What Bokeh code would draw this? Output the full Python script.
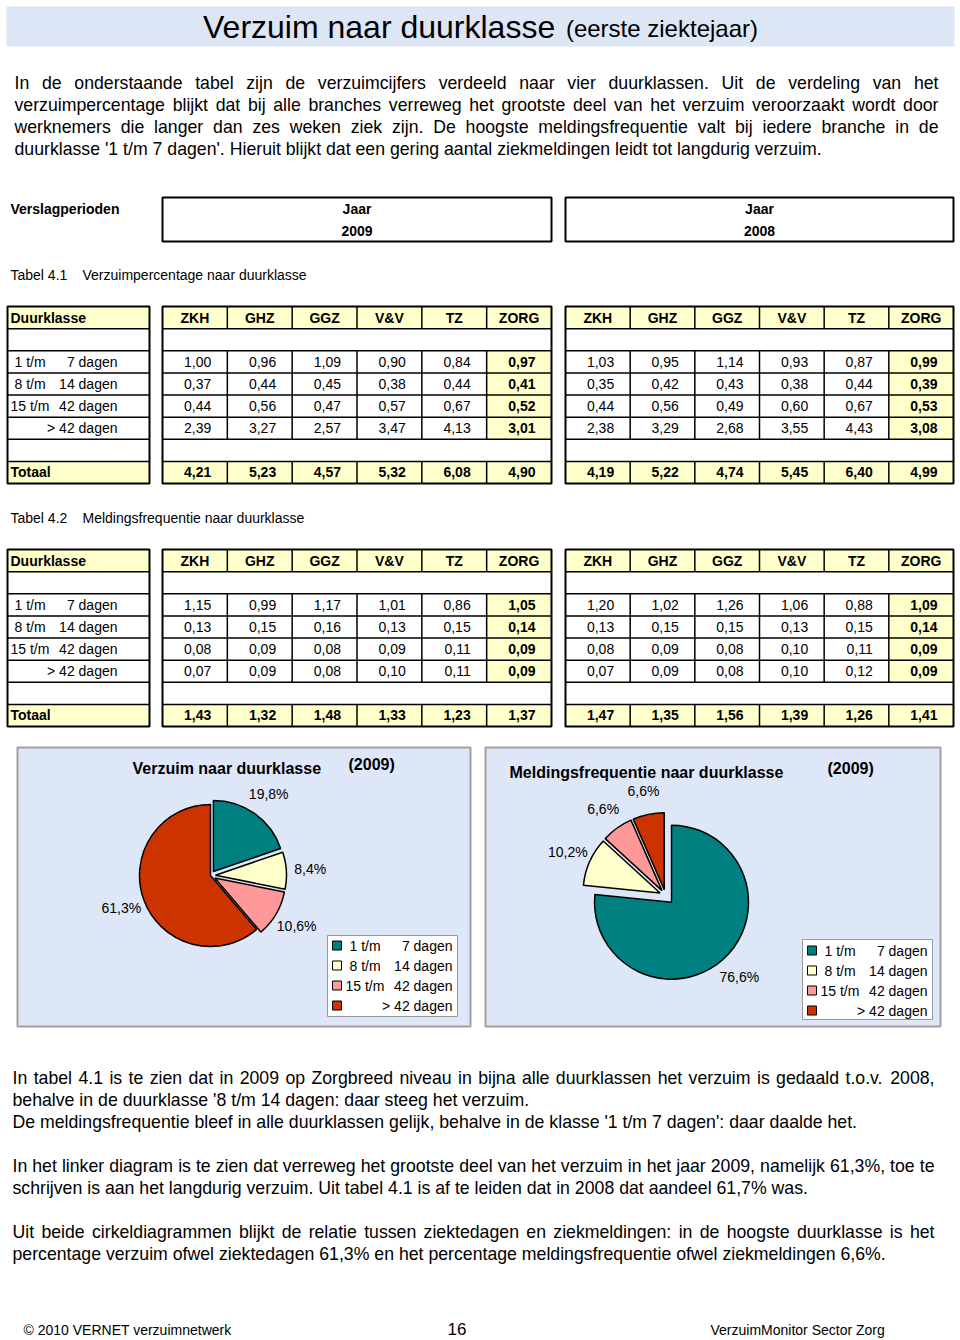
import numpy as np
from collections import OrderedDict
from bokeh.plotting import figure
from bokeh.models import Range1d, ColumnDataSource
from bokeh.core.properties import value
from bokeh.embed import file_html
from bokeh.resources import INLINE

# ---------------------------------------------------------------- data
branches = ["ZKH", "GHZ", "GGZ", "V&V", "TZ", "ZORG"]
years = ["2009", "2008"]
duur_van = ["1 t/m", "8 t/m", "15 t/m", ""]
duur_tot = ["7 dagen", "14 dagen", "42 dagen", "> 42 dagen"]

# Tabel 4.1 Verzuimpercentage naar duurklasse
vp2009_1_7 = [1.00, 0.96, 1.09, 0.90, 0.84, 0.97]
vp2009_8_14 = [0.37, 0.44, 0.45, 0.38, 0.44, 0.41]
vp2009_15_42 = [0.44, 0.56, 0.47, 0.57, 0.67, 0.52]
vp2009_gt42 = [2.39, 3.27, 2.57, 3.47, 4.13, 3.01]
vp2009_totaal = [4.21, 5.23, 4.57, 5.32, 6.08, 4.90]
vp2008_1_7 = [1.03, 0.95, 1.14, 0.93, 0.87, 0.99]
vp2008_8_14 = [0.35, 0.42, 0.43, 0.38, 0.44, 0.39]
vp2008_15_42 = [0.44, 0.56, 0.49, 0.60, 0.67, 0.53]
vp2008_gt42 = [2.38, 3.29, 2.68, 3.55, 4.43, 3.08]
vp2008_totaal = [4.19, 5.22, 4.74, 5.45, 6.40, 4.99]

# Tabel 4.2 Meldingsfrequentie naar duurklasse
mf2009_1_7 = [1.15, 0.99, 1.17, 1.01, 0.86, 1.05]
mf2009_8_14 = [0.13, 0.15, 0.16, 0.13, 0.15, 0.14]
mf2009_15_42 = [0.08, 0.09, 0.08, 0.09, 0.11, 0.09]
mf2009_gt42 = [0.07, 0.09, 0.08, 0.10, 0.11, 0.09]
mf2009_totaal = [1.43, 1.32, 1.48, 1.33, 1.23, 1.37]
mf2008_1_7 = [1.20, 1.02, 1.26, 1.06, 0.88, 1.09]
mf2008_8_14 = [0.13, 0.15, 0.15, 0.13, 0.15, 0.14]
mf2008_15_42 = [0.08, 0.09, 0.08, 0.10, 0.11, 0.09]
mf2008_gt42 = [0.07, 0.09, 0.08, 0.10, 0.12, 0.09]
mf2008_totaal = [1.47, 1.35, 1.56, 1.39, 1.26, 1.41]

# pie charts (2009, ZORG)
pie_verzuim_2009 = [19.8, 8.4, 10.6, 61.3]
pie_melding_2009 = [76.6, 10.2, 6.6, 6.6]

title_main = "Verzuim naar duurklasse"
title_sub = "(eerste ziektejaar)"
intro_lines = [
    "In de onderstaande tabel zijn de verzuimcijfers verdeeld naar vier duurklassen. Uit de verdeling van het",
    "verzuimpercentage blijkt dat bij alle branches verreweg het grootste deel van het verzuim veroorzaakt wordt door",
    "werknemers die langer dan zes weken ziek zijn. De hoogste meldingsfrequentie valt bij iedere branche in de",
    "duurklasse '1 t/m 7 dagen'. Hieruit blijkt dat een gering aantal ziekmeldingen leidt tot langdurig verzuim.",
]
outro_lines = [
    "In tabel 4.1 is te zien dat in 2009 op Zorgbreed niveau in bijna alle duurklassen het verzuim is gedaald t.o.v. 2008,",
    "behalve in de duurklasse '8 t/m 14 dagen: daar steeg het verzuim.",
    "De meldingsfrequentie bleef in alle duurklassen gelijk, behalve in de klasse '1 t/m 7 dagen': daar daalde het.",
    "",
    "In het linker diagram is te zien dat verreweg het grootste deel van het verzuim in het jaar 2009, namelijk 61,3%, toe te",
    "schrijven is aan het langdurig verzuim. Uit tabel 4.1 is af te leiden dat in 2008 dat aandeel 61,7% was.",
    "",
    "Uit beide cirkeldiagrammen blijkt de relatie tussen ziektedagen en ziekmeldingen: in de hoogste duurklasse is het",
    "percentage verzuim ofwel ziektedagen 61,3% en het percentage meldingsfrequentie ofwel ziekmeldingen 6,6%.",
]
outro_justify = [True, False, False, False, True, False, False, True, False]

# ---------------------------------------------------------------- styling
FONT = "Liberation Sans"
YELLOW = "#FFFFCC"
PANEL_BG = "#DDE7F8"
BAND_BG = "#DCE6F5"
PIE_COLORS = ["#008080", "#FFFFCC", "#FF9999", "#CC3300"]

W_PX, H_PX = 960, 1340
SX = 1.0

p = figure(width=W_PX, height=H_PX, x_range=Range1d(0, W_PX), y_range=Range1d(0, H_PX),
           x_axis_type=None, y_axis_type=None, output_backend="svg",
           toolbar_location=None, min_border=0)
p.outline_line_color = None
p.background_fill_color = "white"


def Y(y):
    return H_PX - y


# Arial / Liberation Sans advance widths (per 1000 em)
_W = {' ': 278, '!': 278, '"': 355, '%': 889, '&': 667, "'": 191, '(': 333, ')': 333, ',': 278,
      '-': 333, '.': 278, '/': 278, ':': 278, ';': 278, '>': 584, '©': 737}
for c in "0123456789":
    _W[c] = 556
_W.update(dict(A=667, B=667, C=722, D=722, E=667, F=611, G=778, H=722, I=278, J=500, K=667, L=556,
               M=833, N=722, O=778, P=667, Q=778, R=722, S=667, T=611, U=722, V=667, W=944, X=667,
               Y=667, Z=611))
_W.update(dict(a=556, b=556, c=500, d=556, e=556, f=278, g=556, h=556, i=222, j=222, k=500, l=222,
               m=833, n=556, o=556, p=556, q=556, r=333, s=500, t=278, u=556, v=500, w=722, x=500,
               y=500, z=500))


def tw(s, size):
    return sum(_W.get(c, 556) for c in s) / 1000.0 * size / SX


TXT = OrderedDict()


def T(x, y, s, size=14, bold=False, align="left", color="black", baseline="middle"):
    key = (size, bold, align, color, baseline)
    d = TXT.setdefault(key, {"x": [], "y": [], "t": []})
    d["x"].append(x)
    d["y"].append(Y(y))
    d["t"].append(s)


def quads(l, r, t, b, fill, line=None, lw=1):
    p.quad(left=l, right=r, top=[Y(v) for v in t], bottom=[Y(v) for v in b],
           fill_color=fill, line_color=line, line_width=lw)


def segs(x0, y0, x1, y1, lw=1.5, color="black"):
    p.segment(x0=x0, y0=[Y(v) for v in y0], x1=x1, y1=[Y(v) for v in y1],
              line_color=color, line_width=lw)


# ---------------------------------------------------------------- title band
quads([6], [954], [6], [46], BAND_BG)
w1, w2, g = tw(title_main, 32), tw(title_sub, 24), 9
tx = 480 - (w1 + g + w2) / 2
T(tx, 26, title_main, 32)
T(tx + w1 + g, 28, title_sub, 24)


# ---------------------------------------------------------------- paragraphs
def para(lines, justify, x0, x1, ytop, lh, size):
    for i, (s, j) in enumerate(zip(lines, justify)):
        if not s:
            continue
        y = ytop + i * lh
        if not j:
            T(x0, y, s, size)
            continue
        words = s.split(" ")
        ws = [tw(w, size) for w in words]
        gap = (x1 - x0 - sum(ws)) / (len(words) - 1)
        x = x0
        for w, wd in zip(words, ws):
            T(x, y, w, size)
            x += wd + gap


PSIZE = 17.7
para(intro_lines, [True, True, True, False], 14, 938, 82, 22, PSIZE)
para(outro_lines, outro_justify, 12, 934, 1077, 22, PSIZE)

# ---------------------------------------------------------------- year boxes
LBL = (7, 149)
BLOCKS = [(162, 551), (565, 953)]
T(10, 208, "Verslagperioden", 14, bold=True)
quads([b[0] for b in BLOCKS], [b[1] for b in BLOCKS], [197, 197], [241, 241], "white", "black", 2)
for (l, r), yr in zip(BLOCKS, years):
    T((l + r) / 2, 208, "Jaar", 14, bold=True, align="center")
    T((l + r) / 2, 230, yr, 14, bold=True, align="center")

# ---------------------------------------------------------------- tables
ROW_H = 22.125


def fmt(v, nd=2):
    return f"{v:.{nd}f}".replace(".", ",")


def table(top, caption_no, caption, data_by_year):
    T(10, top - 32, caption_no, 14)
    T(82, top - 32, caption, 14)
    yk = [top + k * ROW_H for k in range(9)]
    yc = [top + (k + 0.5) * ROW_H for k in range(8)]
    # fills
    fl, fr, ft, fb = [], [], [], []
    for k in (0, 7):
        fl.append(LBL[0]); fr.append(LBL[1]); ft.append(yk[k]); fb.append(yk[k + 1])
    for (l, r) in BLOCKS:
        cw = (r - l) / len(branches)
        for k in (0, 7):
            fl.append(l); fr.append(r); ft.append(yk[k]); fb.append(yk[k + 1])
        fl.append(l + 5 * cw); fr.append(r); ft.append(yk[2]); fb.append(yk[6])
    quads(fl, fr, ft, fb, YELLOW)
    # inner lines
    x0, y0, x1, y1 = [], [], [], []
    for (l, r) in [LBL] + BLOCKS:
        for k in range(1, 8):
            x0.append(l); x1.append(r); y0.append(yk[k]); y1.append(yk[k])
    for (l, r) in BLOCKS:
        cw = (r - l) / len(branches)
        for j in range(1, len(branches)):
            xx = l + j * cw
            for (a, b) in ((0, 1), (2, 6), (7, 8)):
                x0.append(xx); x1.append(xx); y0.append(yk[a]); y1.append(yk[b])
    segs(x0, y0, x1, y1, 1.5)
    quads([LBL[0]] + [b[0] for b in BLOCKS], [LBL[1]] + [b[1] for b in BLOCKS],
          [yk[0]] * 3, [yk[8]] * 3, None, "black", 2)
    # label texts
    T(10, yc[0], "Duurklasse", 14, bold=True)
    T(10, yc[7], "Totaal", 14, bold=True)
    for i, (a, b) in enumerate(zip(duur_van, duur_tot)):
        if a:
            T(10 + (0 if len(a.split(" ")[0]) == 2 else 4), yc[2 + i], a, 14)
        T(117, yc[2 + i], b, 14, align="right")
    # data texts
    for (l, r), rows in zip(BLOCKS, data_by_year):
        cw = (r - l) / len(branches)
        for j, br in enumerate(branches):
            cx = l + (j + 0.5) * cw
            T(cx, yc[0], br, 14, bold=True, align="center")
            for i, row in enumerate(rows):
                k = 2 + i if i < 4 else 7
                bold = (br == "ZORG") or i == 4
                T(l + (j + 1) * cw - 16, yc[k], fmt(row[j]), 14, bold=bold, align="right")


table(306, "Tabel 4.1", "Verzuimpercentage naar duurklasse",
      [[vp2009_1_7, vp2009_8_14, vp2009_15_42, vp2009_gt42, vp2009_totaal],
       [vp2008_1_7, vp2008_8_14, vp2008_15_42, vp2008_gt42, vp2008_totaal]])
table(549, "Tabel 4.2", "Meldingsfrequentie naar duurklasse",
      [[mf2009_1_7, mf2009_8_14, mf2009_15_42, mf2009_gt42, mf2009_totaal],
       [mf2008_1_7, mf2008_8_14, mf2008_15_42, mf2008_gt42, mf2008_totaal]])


# ---------------------------------------------------------------- pie panels
def pie_panel(px0, px1, title, tx, ty, yx, yy, cx, cy, r, vals, explode, lg):
    quads([px0], [px1], [747], [1026], PANEL_BG, "#A0A0A0", 2)
    T(tx, ty, title, 16, bold=True)
    T(yx, yy, "(2009)", 16, bold=True)
    v = np.array(vals, dtype=float)
    cum = np.concatenate([[0], np.cumsum(v)]) / v.sum()
    a_start = np.pi / 2 - 2 * np.pi * cum[:-1]
    a_end = np.pi / 2 - 2 * np.pi * cum[1:]
    mid = (a_start + a_end) / 2
    ex = np.array(explode, dtype=float)
    xs = cx + ex * np.cos(mid)
    ys = Y(cy) + ex * np.sin(mid)
    p.wedge(x=list(xs), y=list(ys), radius=r, start_angle=list(a_end), end_angle=list(a_start),
            direction="anticlock", fill_color=PIE_COLORS, line_color="black", line_width=1.5)
    lr = r + 24 + ex
    for val, m, rr in zip(vals, mid, lr):
        T(cx + rr * np.cos(m), cy - rr * np.sin(m), fmt(val, 1) + "%", 14, align="center")
    # legend
    lx0, ly0, lx1, ly1, ey = lg
    quads([lx0], [lx1], [ly0], [ly1], "white", "#9A9A9A", 1)
    sl, sr, st, sb = [], [], [], []
    for i in range(4):
        yy_ = ey + 20 * i
        sl.append(lx0 + 5); sr.append(lx0 + 14); st.append(yy_ - 4.5); sb.append(yy_ + 4.5)
        a, b = duur_van[i], duur_tot[i]
        if a:
            T(lx0 + 18 + (0 if len(a.split(" ")[0]) == 2 else 4), yy_, a, 14)
        T(lx1 - 5, yy_, b, 14, align="right")
    p.quad(left=sl, right=sr, top=[Y(v) for v in st], bottom=[Y(v) for v in sb],
           fill_color=PIE_COLORS, line_color="black", line_width=1)


pie_panel(17, 470, "Verzuim naar duurklasse", 132, 768, 348, 764,
          210, 875, 71, pie_verzuim_2009, [5, 5, 5, 0], (327, 935, 457, 1016, 945))
pie_panel(485, 940, "Meldingsfrequentie naar duurklasse", 509, 772, 827, 768,
          665, 895, 77, pie_melding_2009, [9, 6, 6, 6], (802, 939, 932, 1019, 950))

# ---------------------------------------------------------------- footer
T(23, 1329, "© 2010 VERNET verzuimnetwerk", 14)
T(447, 1328, "16", 17)
T(710, 1329, "VerzuimMonitor Sector Zorg", 14)

# ---------------------------------------------------------------- draw texts
for (size, bold, align, color, baseline), d in TXT.items():
    p.text(x="x", y="y", text="t", source=ColumnDataSource(dict(x=d["x"], y=d["y"], t=d["t"])),
           text_font=value(FONT), text_font_size=f"{size}px",
           text_font_style="bold" if bold else "normal", text_align=align,
           text_baseline=baseline, text_color=color)

open("out.html", "w").write(file_html(p, INLINE))
